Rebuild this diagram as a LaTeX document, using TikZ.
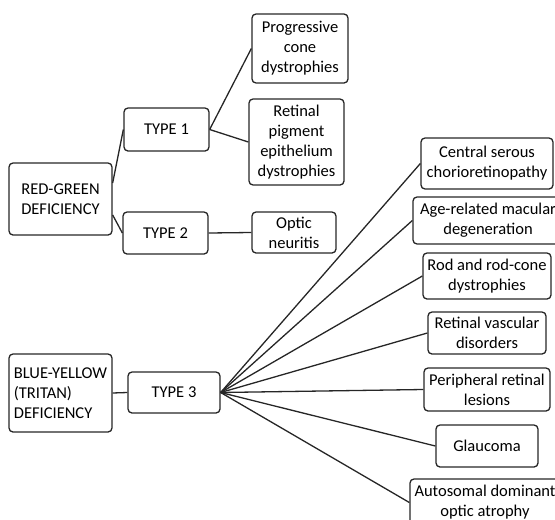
\documentclass[tikz,border=0pt]{standalone}
\usepackage{fontspec}
\setmainfont{Carlito}
\usetikzlibrary{positioning,calc}
\tikzset{
  box/.style={draw=black!85, line width=1.3pt, rounded corners=4pt, inner sep=0pt,
    align=center, font=\fontsize{16.5}{20}\selectfont},
  link/.style={draw=black!85, line width=1.3pt}
}
\begin{document}
\begin{tikzpicture}[x=1pt,y=-1pt]
	\useasboundingbox (0,0) rectangle (555,520);

	% red-green
	\node[box, minimum width=103, minimum height=72] (RG) at (60.5,199) {RED-GREEN\\DEFICIENCY};
	\node[box, minimum width=85, minimum height=43] (T1) at (166.5,129.5) {TYPE 1};
	\node[box, minimum width=85, minimum height=42] (T2) at (165.5,233) {TYPE 2};
	\node[box, minimum width=96, minimum height=69] (PCD) at (300,48.5) {Progressive\\cone\\dystrophies};
	\node[box, minimum width=95, minimum height=86] (RPE) at (296.5,142) {Retinal\\pigment\\epithelium\\dystrophies};
	\node[box, minimum width=84, minimum height=41] (ON) at (294,232.5) {Optic\\neuritis};

	% blue-yellow
	\node[box, align=left, minimum width=103, minimum height=78] (BY) at (60.5,393) {BLUE-YELLOW\\(TRITAN)\\DEFICIENCY};
	\node[box, minimum width=92, minimum height=41] (T3) at (174,392.5) {TYPE 3};
	\node[box, minimum width=132, minimum height=51] (CSC) at (487,163.5) {Central serous\\chorioretinopathy};
	\node[box, minimum width=150, minimum height=47] (AMD) at (488,220.5) {Age-related macular\\degeneration};
	\node[box, minimum width=128, minimum height=46] (ROD) at (487,276) {Rod and rod-cone\\dystrophies};
	\node[box, minimum width=118, minimum height=42] (RVD) at (487,333) {Retinal vascular\\disorders};
	\node[box, minimum width=126, minimum height=43] (PRL) at (487,389.5) {Peripheral retinal\\lesions};
	\node[box, minimum width=102, minimum height=42] (GL) at (487,446) {Glaucoma};
	\node[box, minimum width=150, minimum height=47] (ADOA) at (485,502.5) {Autosomal dominant\\optic atrophy};

	\draw[link] (RG.17) -- (T1.west);
	\draw[link] (RG.-17) -- (T2.west);
	\draw[link] (T1.east) -- (PCD.west);
	\draw[link] (T1.east) -- (RPE.west);
	\draw[link] (T2.east) -- (ON.west);
	\draw[link] (BY.east) -- (T3.west);
	\foreach \n in {CSC,AMD,ROD,RVD,PRL,GL,ADOA}
		\draw[link] (T3.east) -- (\n.west);
\end{tikzpicture}
\end{document}
